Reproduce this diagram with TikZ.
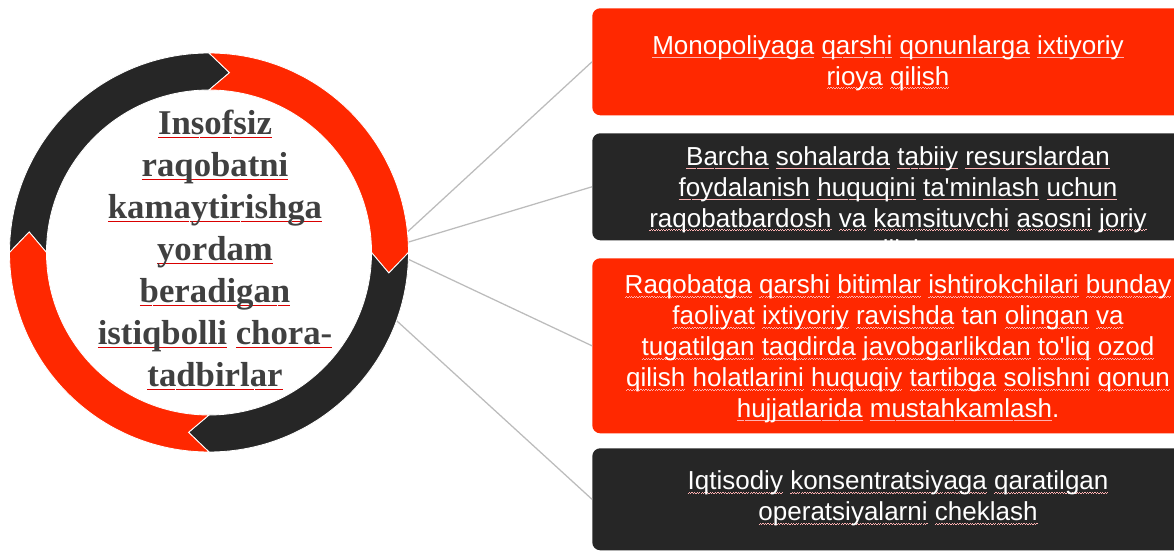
\documentclass[tikz,border=0pt]{standalone}
\usepackage{fontspec}
\setmainfont{Liberation Serif}
\setsansfont{Liberation Sans}[Ligatures=TeXOff]
\usepackage{xcolor}
\usetikzlibrary{positioning}
\definecolor{hotred}{RGB}{255,40,0}
\definecolor{coal}{RGB}{38,38,38}
\definecolor{inkgray}{RGB}{64,64,64}
\definecolor{spoke}{RGB}{188,188,188}
\colorlet{squig}{red}
\newsavebox\sqbox
\newcommand\sq[1]{\sbox\sqbox{#1}\rlap{\lower2.5pt\hbox to\wd\sqbox{\color{squig}%
  \xleaders\hbox{\rule{0.9pt}{0.45pt}\rule[0.45pt]{0.9pt}{0.45pt}}\hfill}}\usebox\sqbox}

\begin{document}
\begin{tikzpicture}[x=0.025cm,y=0.025cm,
  card/.style={rounded corners=0.2cm,minimum width=15.3cm,anchor=north west,inner sep=0pt},
  cardtxt/.style={align=center,text=white,inner sep=0pt,
    font=\sffamily\fontsize{18.5pt}{22pt}\selectfont\colorlet{squig}{red!30!white}},
  hubtxt/.style={align=center,text=inkgray,inner sep=0pt,
    font=\rmfamily\bfseries\fontsize{24.7pt}{29.9pt}\selectfont\colorlet{squig}{red!85!black}},
  spokeline/.style={draw=spoke,line width=0.9pt}]
\useasboundingbox (0,0) rectangle (1174,552);
\node[circle,minimum size=9.975cm,inner sep=0pt] (ring) at (209,299.5) {};

\node[card,fill=hotred,minimum height=2.675cm] (b1) at (592,544) {};
\node[cardtxt] (t1) at (888,489) {\sq{Monopoliyaga} \sq{qarshi} \sq{qonunlarga} \sq{ixtiyoriy}\\
  \sq{rioya} \sq{qilish}};
\node[card,fill=coal,minimum height=2.675cm] (b2) at (592,419) {};
\node[cardtxt] (t2) at (898,347) {\sq{Barcha} \sq{sohalarda} \sq{tabiiy} \sq{resurslardan}\\
  \sq{foydalanish} \sq{huquqini} \sq{ta'minlash} \sq{uchun}\\
  \sq{raqobatbardosh} \sq{va} \sq{kamsituvchi} \sq{asosni} \sq{joriy}\\
  \sq{qilish}};
\node[card,fill=hotred,minimum height=4.375cm] (b3) at (592,294) {};
\node[cardtxt] (t3) at (898,203) {\sq{Raqobatga} \sq{qarshi} \sq{bitimlar} \sq{ishtirokchilari} \sq{bunday}\\
  \sq{faoliyat} \sq{ixtiyoriy} \sq{ravishda} tan \sq{olingan} \sq{va}\\
  \sq{tugatilgan} \sq{taqdirda} \sq{javobgarlikdan} \sq{to'liq} \sq{ozod}\\
  \sq{qilish} \sq{holatlarini} \sq{huquqiy} \sq{tartibga} \sq{solishni} \sq{qonun}\\
  \sq{hujjatlarida} \sq{mustahkamlash}.};
\node[card,fill=coal,minimum height=2.55cm] (b4) at (592,104) {};
\node[cardtxt] (t4) at (898,53.5) {\sq{Iqtisodiy} \sq{konsentratsiyaga} \sq{qaratilgan}\\
  \sq{operatsiyalarni} \sq{cheklash}};

\draw[spokeline] (ring.6) -- (b1.west);
\draw[spokeline] (ring.3) -- (b2.west);
\draw[spokeline] (ring.-2) -- (b3.west);
\draw[spokeline] (ring.-20) -- (b4.west);

\begin{scope}[shift={(209,299.5)}]
\foreach \a/\b/\c in {180/90/coal,90/0/hotred,0/-90/coal,-90/-180/hotred}
  \filldraw[fill=\c,draw=white,line width=0.6pt] (\a:199.5) arc[start angle=\a,end angle=\b,radius=199.5]
    -- ({\b-6.5}:181) -- (\b:162.5) arc[start angle=\b,end angle=\a,radius=162.5] -- ({\a-6.5}:181) -- cycle;
\end{scope}

\node[hubtxt] (hub) at (215,302) {\sq{Insofsiz}\\ \sq{raqobatni}\\ \sq{kamaytirishga}\\ \sq{yordam}\\
  \sq{beradigan}\\ \sq{istiqbolli} \sq{chora-}\\ \sq{tadbirlar}};
\end{tikzpicture}
\end{document}
